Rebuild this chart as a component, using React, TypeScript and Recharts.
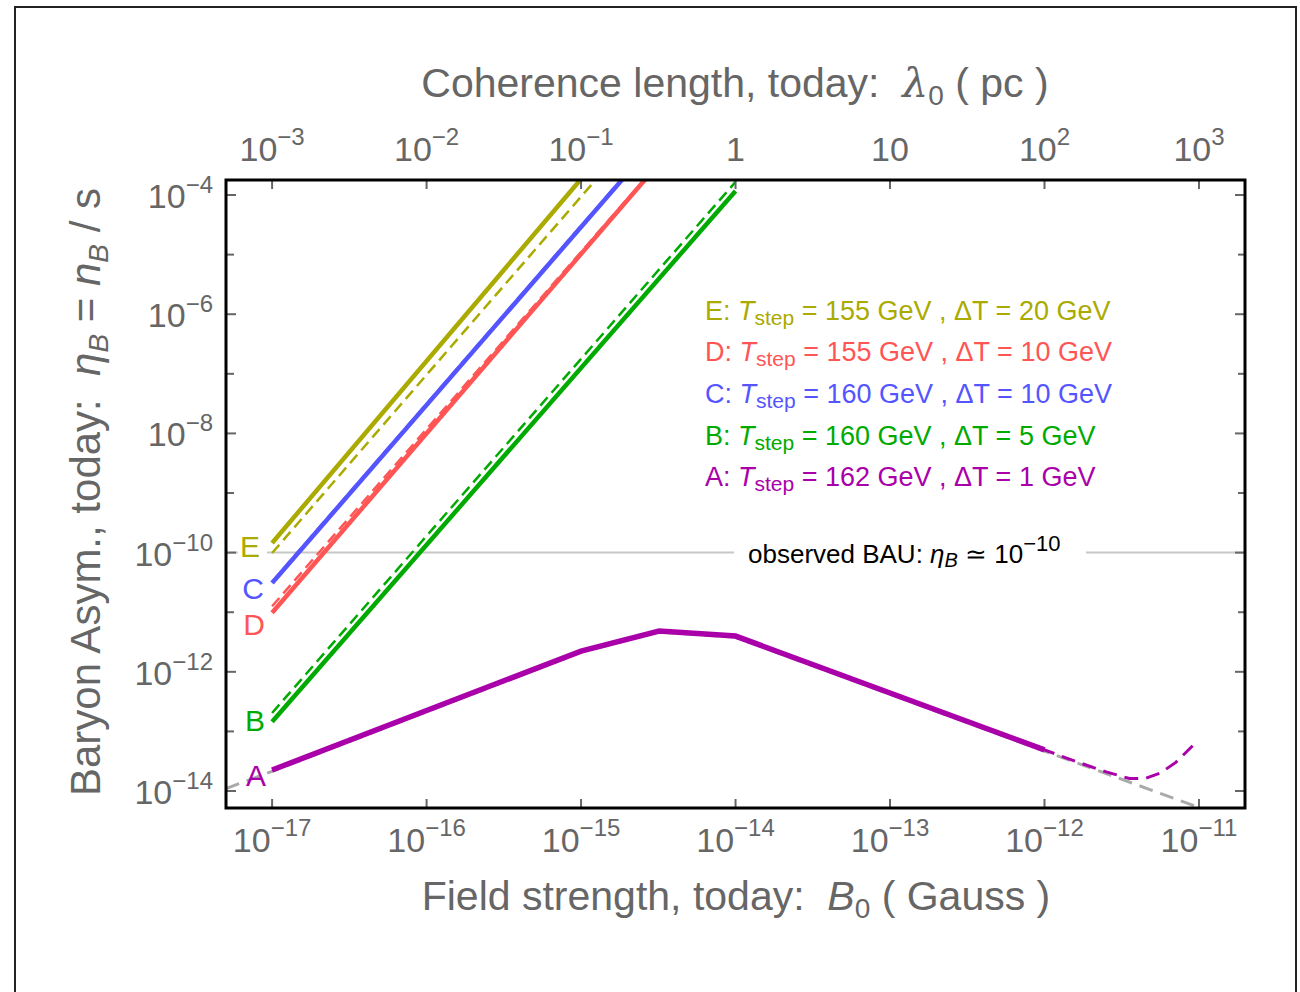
import React from 'react';
import { LineChart, Line, XAxis, YAxis, ReferenceLine } from 'recharts';

// ---------- axes ----------
const xTicks = [1e-17, 1e-16, 1e-15, 1e-14, 1e-13, 1e-12, 1e-11];
const bottomTickExp = ['−17', '−16', '−15', '−14', '−13', '−12', '−11'];
const topTickBase = ['10', '10', '10', '1', '10', '10', '10'];
const topTickExp = ['−3', '−2', '−1', '', '', '2', '3'];
const yTicks = [1e-14, 1e-13, 1e-12, 1e-11, 1e-10, 1e-9, 1e-8, 1e-7, 1e-6, 1e-5, 1e-4];
const yTickExp: (string | null)[] = ['−14', null, '−12', null, '−10', null, '−8', null, '−6', null, '−4'];
const xDomain = [5.03e-18, 1.986e-11];
const yDomain = [5.19e-15, 1.786e-4];
const bauLevel = 1e-10;

// ---------- series (B0 in Gauss, eta_B) ----------
const eSolid = [
  { b: 1e-17, eta: 1.45e-10 },
  { b: 1e-15, eta: 1.86e-4 },
];
const eDashed = [
  { b: 1e-17, eta: 9.85e-11 },
  { b: 1.26e-15, eta: 1.87e-4 },
];
const cSolid = [
  { b: 1e-17, eta: 3.09e-11 },
  { b: 2e-15, eta: 2.3e-4 },
];
const cDashed = [
  { b: 1e-17, eta: 3.24e-11 },
  { b: 2e-15, eta: 2.4e-4 },
];
const dSolid = [
  { b: 1e-17, eta: 9.77e-12 },
  { b: 3e-15, eta: 2.8e-4 },
];
const dDashed = [
  { b: 1e-17, eta: 1.26e-11 },
  { b: 3e-15, eta: 2.9e-4 },
];
const bSolid = [
  { b: 1e-17, eta: 1.45e-13 },
  { b: 1e-14, eta: 1.17e-4 },
];
const bDashed = [
  { b: 1e-17, eta: 2.04e-13 },
  { b: 1e-14, eta: 1.66e-4 },
];
const aSolid = [
  { b: 1e-17, eta: 2.25e-14 },
  { b: 1e-15, eta: 2.23e-12 },
  { b: 3.2e-15, eta: 4.84e-12 },
  { b: 1e-14, eta: 3.98e-12 },
  { b: 1e-12, eta: 4.9e-14 },
];
const aDashed = [
  { b: 1e-17, eta: 2.25e-14 },
  { b: 1e-15, eta: 2.23e-12 },
  { b: 3.2e-15, eta: 4.84e-12 },
  { b: 1e-14, eta: 3.98e-12 },
  { b: 1e-12, eta: 4.9e-14 },
  { b: 1.58e-12, eta: 3.16e-14 },
  { b: 2.51e-12, eta: 2.09e-14 },
  { b: 3.55e-12, eta: 1.62e-14 },
  { b: 4.47e-12, eta: 1.62e-14 },
  { b: 5.62e-12, eta: 2.0e-14 },
  { b: 7.08e-12, eta: 3.02e-14 },
  { b: 9.1e-12, eta: 5.75e-14 },
];
const grayRef = [
  { b: 5.03e-18, eta: 1.1e-14 },
  { b: 1e-17, eta: 2.14e-14 },
  { b: 1e-15, eta: 2.14e-12 },
  { b: 3.2e-15, eta: 4.68e-12 },
  { b: 1e-14, eta: 3.8e-12 },
  { b: 1e-12, eta: 4.68e-14 },
  { b: 9.8e-12, eta: 5.4e-15 },
];

// legend rows
const legendRows = [
  { key: 'E', tstep: '155', dT: '20', color: '#aaaa00' },
  { key: 'D', tstep: '155', dT: '10', color: '#ff5555' },
  { key: 'C', tstep: '160', dT: '10', color: '#5555ff' },
  { key: 'B', tstep: '160', dT: '5', color: '#00aa00' },
  { key: 'A', tstep: '162', dT: '1', color: '#aa00aa' },
];

const OLIVE = '#aaaa00';
const RED = '#ff5555';
const BLUE = '#5555ff';
const GREEN = '#00aa00';
const PURPLE = '#aa00aa';
const GRAY = '#aaaaaa';
const TXT = '#666666';
const TICK = '#666666';
const FONT = "'Liberation Sans', Arial, Helvetica, sans-serif";

const idxOf = (arr: number[], v: number) => {
  let best = 0;
  let bd = Infinity;
  arr.forEach((a, i) => {
    const d = Math.abs(Math.log10(a) - Math.log10(v));
    if (d < bd) { bd = d; best = i; }
  });
  return best;
};

const BottomTick = (p: any) => {
  const { x, y, payload } = p;
  const i = idxOf(xTicks, payload.value);
  return (
    <g>
      <line x1={x} y1={y} x2={x} y2={y - 9} stroke={TICK} strokeWidth={2} />
      <text x={x} y={y + 44} textAnchor="middle" fill={TXT} fontFamily={FONT} fontSize={34}>
        10<tspan fontSize={24} dy={-16}>{bottomTickExp[i]}</tspan>
      </text>
    </g>
  );
};

const TopTick = (p: any) => {
  const { x, y, payload } = p;
  const i = idxOf(xTicks, payload.value);
  return (
    <g>
      <line x1={x} y1={y} x2={x} y2={y + 9} stroke={TICK} strokeWidth={2} />
      <text x={x} y={y - 19} textAnchor="middle" fill={TXT} fontFamily={FONT} fontSize={34}>
        {topTickBase[i]}
        {topTickExp[i] ? <tspan fontSize={24} dy={-16}>{topTickExp[i]}</tspan> : null}
      </text>
    </g>
  );
};

const LeftTick = (p: any) => {
  const { x, y, payload } = p;
  const i = idxOf(yTicks, payload.value);
  const lab = yTickExp[i];
  return (
    <g>
      <line x1={x} y1={y} x2={x + (lab ? 10 : 8)} y2={y} stroke={TICK} strokeWidth={2} />
      {lab ? (
        <text x={x - 13} y={y + 13} textAnchor="end" fill={TXT} fontFamily={FONT} fontSize={34}>
          10<tspan fontSize={24} dy={-15}>{lab}</tspan>
        </text>
      ) : null}
    </g>
  );
};

const RightTick = (p: any) => {
  const { x, y, payload } = p;
  const i = idxOf(yTicks, payload.value);
  const lab = yTickExp[i];
  return <line x1={x} y1={y} x2={x - (lab ? 10 : 7)} y2={y} stroke={TICK} strokeWidth={2} />;
};

const lineProps = { dataKey: 'eta', dot: false, activeDot: false, isAnimationActive: false, type: 'linear' as const };

export default function App() {
  const legendBase = [320, 361, 403, 445, 486];
  return (
    <div style={{ position: 'absolute', left: 0, top: 0, width: 1300, height: 992, background: '#fff', overflow: 'hidden' }}>
      <div style={{ position: 'absolute', left: 14, top: 6, width: 1283, height: 1010, border: '2px solid #222', boxSizing: 'border-box' }} />
      <div style={{ position: 'absolute', left: 0, top: 0 }}>
        <LineChart width={1300} height={992} margin={{ top: 140, right: 15, bottom: 144, left: 186 }}>
          <XAxis
            dataKey="b" type="number" scale="log" domain={xDomain} allowDataOverflow ticks={xTicks} interval={0}
            height={40} tickSize={0} tickMargin={0} tickLine={false} axisLine={false} tick={BottomTick}
          />
          <XAxis
            xAxisId="top" orientation="top" dataKey="b" type="number" scale="log" domain={xDomain} allowDataOverflow
            ticks={xTicks} interval={0} height={40} tickSize={0} tickMargin={0} tickLine={false} axisLine={false} tick={TopTick}
          />
          <YAxis
            type="number" scale="log" domain={yDomain} allowDataOverflow ticks={yTicks} interval={0}
            width={40} tickSize={0} tickMargin={0} tickLine={false} axisLine={false} tick={LeftTick}
          />
          <YAxis
            yAxisId="right" orientation="right" type="number" scale="log" domain={yDomain} allowDataOverflow ticks={yTicks}
            interval={0} width={40} tickSize={0} tickMargin={0} tickLine={false} axisLine={false} tick={RightTick}
          />
          <ReferenceLine y={bauLevel} stroke="#c8c8c8" strokeWidth={2} ifOverflow="hidden" />
          <Line {...lineProps} data={grayRef} stroke={GRAY} strokeWidth={3} strokeDasharray="14 8" />
          <Line {...lineProps} data={aDashed} stroke={PURPLE} strokeWidth={3} strokeDasharray="14 8" />
          <Line {...lineProps} data={aSolid} stroke={PURPLE} strokeWidth={5.5} />
          <Line {...lineProps} data={bSolid} stroke={GREEN} strokeWidth={4.5} />
          <Line {...lineProps} data={bDashed} stroke={GREEN} strokeWidth={2.5} strokeDasharray="11 6" />
          <Line {...lineProps} data={dSolid} stroke={RED} strokeWidth={4.5} />
          <Line {...lineProps} data={dDashed} stroke={RED} strokeWidth={2.5} strokeDasharray="11 6" />
          <Line {...lineProps} data={cSolid} stroke={BLUE} strokeWidth={4.5} />
          <Line {...lineProps} data={cDashed} stroke={BLUE} strokeWidth={2.5} strokeDasharray="11 6" />
          <Line {...lineProps} data={eSolid} stroke={OLIVE} strokeWidth={4.5} />
          <Line {...lineProps} data={eDashed} stroke={OLIVE} strokeWidth={2.5} strokeDasharray="11 6" />
        </LineChart>
      </div>
      <svg width={1300} height={992} style={{ position: 'absolute', left: 0, top: 0, pointerEvents: 'none' }} fontFamily={FONT}>
        <rect x={226} y={180} width={1019} height={628} fill="none" stroke="#000" strokeWidth={3} />
        {/* titles */}
        <text x={735} y={97} textAnchor="middle" fill={TXT} fontSize={41} style={{ whiteSpace: 'pre' }}>
          {'Coherence length, today:  '}
          <tspan fontStyle="italic" fontFamily="'DejaVu Serif', serif">λ</tspan>
          <tspan fontSize={28} dy={8}>0</tspan>
          <tspan dy={-8}>{' ( pc )'}</tspan>
        </text>
        <text x={736} y={910} textAnchor="middle" fill={TXT} fontSize={41} style={{ whiteSpace: 'pre' }}>
          {'Field strength, today:  '}
          <tspan fontStyle="italic">B</tspan>
          <tspan fontSize={28} dy={8}>0</tspan>
          <tspan dy={-8}>{' ( Gauss )'}</tspan>
        </text>
        <text x={100} y={492} textAnchor="middle" fill={TXT} fontSize={42} transform="rotate(-90 100 492)" style={{ whiteSpace: 'pre' }}>
          {'Baryon Asym., today:  '}
          <tspan fontStyle="italic">η</tspan>
          <tspan fontStyle="italic" fontSize={28} dy={8}>B</tspan>
          <tspan dy={-8}>{' = '}</tspan>
          <tspan fontStyle="italic">n</tspan>
          <tspan fontStyle="italic" fontSize={28} dy={8}>B</tspan>
          <tspan dy={-8}>{' / s'}</tspan>
        </text>
        {/* legend */}
        {legendRows.map((r, i) => (
          <text key={r.key} x={705} y={legendBase[i]} fill={r.color} fontSize={27} style={{ whiteSpace: 'pre' }}>
            {r.key + ': '}
            <tspan fontStyle="italic">T</tspan>
            <tspan fontSize={21} dy={5}>step</tspan>
            <tspan dy={-5}>{` = ${r.tstep} GeV , ΔT = ${r.dT} GeV`}</tspan>
          </text>
        ))}
        {/* observed BAU label */}
        <rect x={734} y={538} width={352} height={30} fill="#fff" />
        <text x={748} y={563} fill="#000" fontSize={26} style={{ whiteSpace: 'pre' }}>
          {'observed BAU: '}
          <tspan fontStyle="italic">η</tspan>
          <tspan fontStyle="italic" fontSize={20} dy={4}>B</tspan>
          <tspan dy={-4}>{' ≃ 10'}</tspan>
          <tspan fontSize={22} dy={-12}>−10</tspan>
        </text>
        {/* curve letters */}
        <rect x={238} y={545} width={29} height={16} fill="#fff" />
        <text x={250} y={557} textAnchor="middle" fill={OLIVE} fontSize={30}>E</text>
        <text x={253} y={599} textAnchor="middle" fill={BLUE} fontSize={30}>C</text>
        <text x={254} y={635} textAnchor="middle" fill={RED} fontSize={30}>D</text>
        <text x={255} y={731} textAnchor="middle" fill={GREEN} fontSize={30}>B</text>
        <text x={256} y={786} textAnchor="middle" fill={PURPLE} fontSize={30}>A</text>
      </svg>
    </div>
  );
}
